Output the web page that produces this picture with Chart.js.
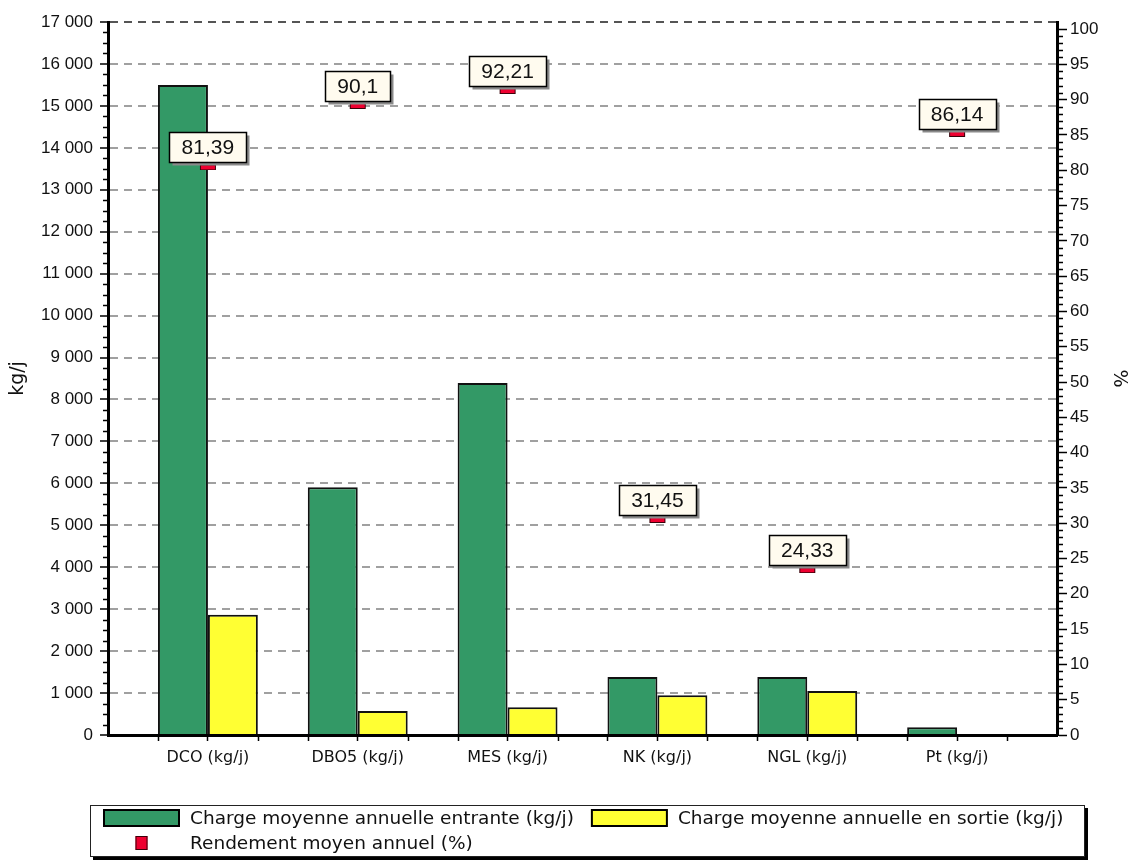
<!DOCTYPE html>
<html>
<head>
<meta charset="utf-8">
<title>Charges et rendements</title>
<script src="https://cdn.jsdelivr.net/npm/chart.js@4/dist/chart.umd.min.js"></script>
<style>
  html, body { margin: 0; padding: 0; background: #ffffff; }
  #wrap { width: 1130px; height: 860px; position: relative; }
</style>
</head>
<body>
<div id="wrap"><canvas id="chart"></canvas></div>
<script>
// Paramètres mesurés (charges en kg/j, rendement en %)
const categories = ['DCO (kg/j)', 'DBO5 (kg/j)', 'MES (kg/j)', 'NK (kg/j)', 'NGL (kg/j)', 'Pt (kg/j)'];
const chargeEntrante = [15500, 5910, 8390, 1380, 1380, 185];
const chargeSortie = [2870, 570, 660, 950, 1050, 25];
const rendement = [81.39, 90.1, 92.21, 31.45, 24.33, 86.14];

const seriesLabels = [
  'Charge moyenne annuelle entrante (kg/j)',
  'Charge moyenne annuelle en sortie (kg/j)',
  'Rendement moyen annuel (%)'
];

const kgMax = 17000;
const kgStep = 1000;
const kgMinorStep = 250;
const pctMax = 101;
const pctStep = 5;
const pctMinorStep = 1;

const GREEN = '#339966';
const YELLOW = '#FFFF33';
const RED = '#EE0030';

const numFont = '"Liberation Sans", Arial, sans-serif';
const textFont = '"DejaVu Sans", Verdana, sans-serif';

function fmtThousands(v) {
  return String(Math.round(v)).replace(/\B(?=(\d{3})+(?!\d))/g, ' ');
}
function fmtDecimal(v) {
  return String(v).replace('.', ',');
}

// Small red marker hanging just under the efficiency value
function makeMarker() {
  const c = document.createElement('canvas');
  c.width = 18; c.height = 20;
  const g = c.getContext('2d');
  g.fillStyle = RED;
  g.fillRect(1, 14, 16, 6);
  g.strokeStyle = '#3a0008';
  g.lineWidth = 1;
  g.strokeRect(1.5, 14.5, 15, 5);
  return c;
}
const marker = makeMarker();

// Minor tick marks: value axes, plus bar-edge marks on the category axis
const minorTicks = {
  id: 'minorTicks',
  afterDraw(chart) {
    const ctx = chart.ctx;
    const x = chart.scales.x, y = chart.scales.y, y1 = chart.scales.y1;
    const { left, right, bottom } = chart.chartArea;
    ctx.save();
    ctx.strokeStyle = '#000';
    ctx.lineWidth = 1.5;
    ctx.beginPath();
    for (let v = 0; v <= kgMax; v += kgMinorStep) {
      if (v % kgStep === 0) continue;
      const p = Math.round(y.getPixelForValue(v)) + 0.5;
      ctx.moveTo(left - 5, p); ctx.lineTo(left, p);
    }
    for (let v = 0; v <= 100; v += pctMinorStep) {
      if (v % pctStep === 0) continue;
      const p = Math.round(y1.getPixelForValue(v)) + 0.5;
      ctx.moveTo(right, p); ctx.lineTo(right + 6, p);
    }
    for (let i = 0; i < categories.length; i++) {
      [-1 / 3, 1 / 3].forEach(d => {
        const p = Math.round(x.getPixelForValue(i + d)) + 0.5;
        ctx.moveTo(p, bottom); ctx.lineTo(p, bottom + 6);
      });
    }
    ctx.stroke();
    ctx.restore();
  }
};

// Value boxes above each efficiency marker
const valueBoxes = {
  id: 'valueBoxes',
  afterDatasetsDraw(chart) {
    const meta = chart.getDatasetMeta(2);
    const values = chart.data.datasets[2].data;
    const ctx = chart.ctx;
    ctx.save();
    ctx.font = '21px ' + numFont;
    meta.data.forEach((pt, i) => {
      const txt = fmtDecimal(values[i].y);
      const w = Math.round(ctx.measureText(txt).width + 24);
      const h = 30;
      const x = Math.round(pt.x - w / 2) + 0.5;
      const yTop = Math.round(pt.y + 2 - h) + 0.5;
      ctx.fillStyle = '#8a8a8a';
      ctx.fillRect(x + 3, yTop + 3, w, h);
      ctx.fillStyle = '#FFFBEF';
      ctx.fillRect(x, yTop, w, h);
      ctx.strokeStyle = '#000';
      ctx.lineWidth = 1.5;
      ctx.strokeRect(x, yTop, w, h);
      ctx.fillStyle = '#111';
      ctx.textAlign = 'center';
      ctx.textBaseline = 'middle';
      ctx.fillText(txt, pt.x, yTop + h / 2 + 1);
    });
    ctx.restore();
  }
};

// Framed legend at the bottom of the canvas
const boxedLegend = {
  id: 'boxedLegend',
  afterDraw(chart) {
    const ctx = chart.ctx;
    const ds = chart.data.datasets;
    const bx = 90, by = chart.height - 55, bw = 995, bh = 52;
    ctx.save();
    ctx.fillStyle = '#000';
    ctx.fillRect(bx + 3, by + 3, bw, bh);
    ctx.fillStyle = '#fff';
    ctx.fillRect(bx, by, bw, bh);
    ctx.strokeStyle = '#222';
    ctx.lineWidth = 1;
    ctx.strokeRect(bx + 0.5, by + 0.5, bw - 1, bh - 1);

    ctx.font = '18.5px ' + textFont;
    ctx.textBaseline = 'middle';
    ctx.textAlign = 'left';
    const row1 = by + 13, row2 = by + 38;
    const swW = 77, swH = 18;

    // row 1: the two bar series
    let x = bx + 13;
    [0, 1].forEach(i => {
      ctx.fillStyle = ds[i].backgroundColor;
      ctx.fillRect(x, row1 - swH / 2, swW, swH);
      ctx.strokeStyle = '#000';
      ctx.lineWidth = 2;
      ctx.strokeRect(x + 1, row1 - swH / 2 + 1, swW - 2, swH - 2);
      ctx.fillStyle = '#111';
      ctx.fillText(ds[i].label, x + swW + 10, row1 + 1);
      x = x + swW + 10 + ctx.measureText(ds[i].label).width + 17;
    });

    // row 2: efficiency marker
    const mx = bx + 13 + swW / 2;
    ctx.fillStyle = RED;
    ctx.fillRect(mx - 6, row2 - 7, 12, 14);
    ctx.strokeStyle = '#3a0008';
    ctx.lineWidth = 1;
    ctx.strokeRect(mx - 5.5, row2 - 6.5, 11, 13);
    ctx.fillStyle = '#111';
    ctx.fillText(ds[2].label, bx + 13 + swW + 10, row2 + 1);
    ctx.restore();
  }
};

const toPoints = arr => arr.map((v, i) => ({ x: i, y: v }));

new Chart(document.getElementById('chart'), {
  type: 'bar',
  data: {
    datasets: [
      {
        label: seriesLabels[0],
        data: toPoints(chargeEntrante),
        backgroundColor: GREEN,
        borderColor: '#111',
        borderWidth: 2,
        yAxisID: 'y',
        order: 1
      },
      {
        label: seriesLabels[1],
        data: toPoints(chargeSortie),
        backgroundColor: YELLOW,
        borderColor: '#111',
        borderWidth: 2,
        yAxisID: 'y',
        order: 1
      },
      {
        type: 'line',
        label: seriesLabels[2],
        data: toPoints(rendement),
        showLine: false,
        pointStyle: marker,
        backgroundColor: RED,
        borderColor: '#3a0008',
        yAxisID: 'y1',
        order: -1
      }
    ]
  },
  options: {
    responsive: true,
    maintainAspectRatio: false,
    devicePixelRatio: 1,
    animation: false,
    events: [],
    categoryPercentage: 2 / 3,
    barPercentage: 1,
    layout: { padding: { top: 22, left: 0, right: 0, bottom: 0 } },
    plugins: {
      legend: { display: false },
      tooltip: { enabled: false }
    },
    scales: {
      x: {
        type: 'linear',
        offset: false,
        min: -2 / 3,
        max: categories.length - 1 + 2 / 3,
        afterBuildTicks(scale) {
          scale.ticks = categories.map((c, i) => ({ value: i }));
        },
        afterFit(scale) { scale.height = 125; },
        ticks: {
          autoSkip: false,
          maxRotation: 0,
          padding: 7,
          color: '#111',
          font: { family: textFont, size: 16 },
          callback(v) {
            const r = Math.round(v);
            return Math.abs(v - r) < 1e-6 ? categories[r] : '';
          }
        },
        grid: {
          offset: false,
          drawOnChartArea: false,
          drawTicks: true,
          tickLength: 6,
          tickColor: '#000',
          tickWidth: 1.5
        },
        border: { display: true, color: '#000', width: 3, z: 1 }
      },
      y: {
        position: 'left',
        min: 0,
        max: kgMax,
        afterFit(scale) { scale.width = 108; },
        ticks: {
          stepSize: kgStep,
          padding: 7,
          color: '#111',
          font: { family: numFont, size: 17 },
          callback: v => fmtThousands(v)
        },
        grid: {
          color: ctx => (ctx.tick && ctx.tick.value === kgMax ? '#555' : '#a0a0a0'),
          lineWidth: 2,
          drawTicks: true,
          tickLength: 8,
          tickColor: '#000',
          tickWidth: 1.5,
          tickBorderDash: []
        },
        border: { display: true, color: '#000', width: 3, dash: [8, 6], z: 1 },
        title: {
          display: true,
          text: 'kg/j',
          color: '#111',
          font: { family: textFont, size: 19 },
          padding: { top: 7, bottom: 0 }
        }
      },
      y1: {
        position: 'right',
        min: 0,
        max: pctMax,
        afterFit(scale) { scale.width = 73; },
        ticks: {
          stepSize: pctStep,
          includeBounds: false,
          padding: 3,
          color: '#111',
          font: { family: numFont, size: 17 }
        },
        grid: {
          drawOnChartArea: false,
          drawTicks: true,
          tickLength: 10,
          tickColor: '#000',
          tickWidth: 1.5
        },
        border: { display: true, color: '#000', width: 3, z: 1 },
        title: {
          display: true,
          text: '%',
          color: '#111',
          font: { family: textFont, size: 19 },
          padding: { top: 0, bottom: 0 }
        }
      }
    }
  },
  plugins: [minorTicks, valueBoxes, boxedLegend]
});
</script>
</body>
</html>
